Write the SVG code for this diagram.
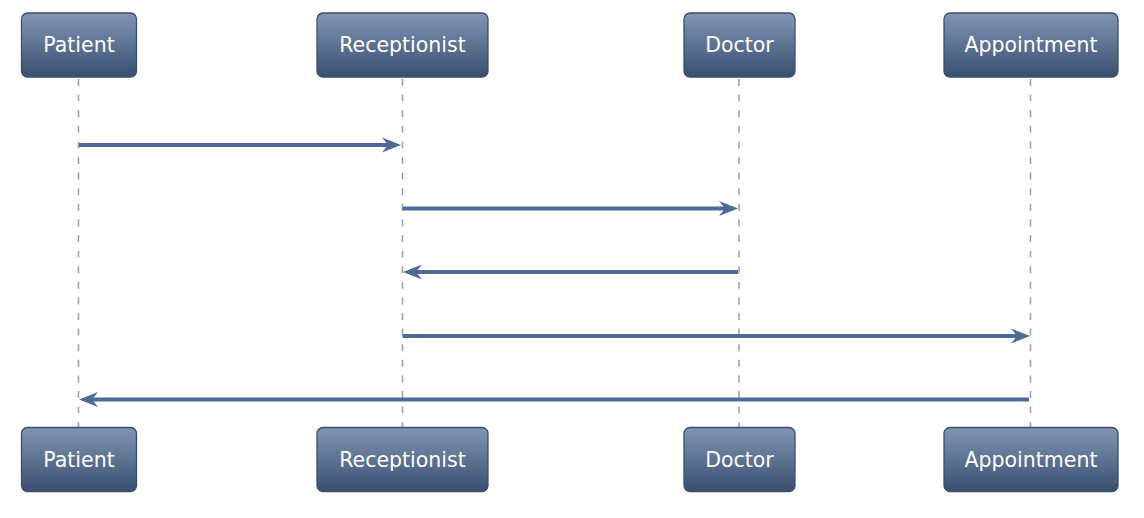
<svg xmlns="http://www.w3.org/2000/svg" width="1144" height="518" viewBox="0 0 1144 518">
<style>
.box{fill:url(#g);stroke:#3a4e6d;stroke-width:1.3}
.lbl{font-family:"DejaVu Sans",Verdana,sans-serif;font-size:20.5px;fill:#ffffff;text-anchor:middle}
.life{stroke:#a3a3a3;stroke-width:1.6;stroke-dasharray:7 8.6;fill:none}
.msg{stroke:#4e6b98;stroke-width:4;fill:none;marker-end:url(#ah)}
</style>
<defs>
<linearGradient id="g" x1="0" y1="0" x2="0" y2="1">
<stop offset="0" stop-color="#8195b3"/>
<stop offset="1" stop-color="#3a4f70"/>
</linearGradient>
<marker id="ah" markerUnits="userSpaceOnUse" markerWidth="30" markerHeight="20" viewBox="-10 -10 30 20" refX="0" refY="0" orient="auto">
<path d="M12,0 L-7,-7.5 L-1,0 L-7,7.5 Z" fill="#4e6b98"/>
</marker>
</defs>
<rect width="1144" height="518" fill="#ffffff"/>
<g id="lifelines">
<line class="life" x1="78.5" y1="79" x2="78.5" y2="427"/>
<line class="life" x1="402.5" y1="79" x2="402.5" y2="427"/>
<line class="life" x1="739" y1="79" x2="739" y2="427"/>
<line class="life" x1="1030.5" y1="79" x2="1030.5" y2="427"/>
</g>
<g id="connectors">
<line class="msg" x1="79" y1="145" x2="389" y2="145"/>
<line class="msg" x1="402.5" y1="208.5" x2="726" y2="208.5"/>
<line class="msg" x1="738" y1="272" x2="415" y2="272"/>
<line class="msg" x1="402.5" y1="336" x2="1018" y2="336"/>
<line class="msg" x1="1029" y1="399.5" x2="91" y2="399.5"/>
</g>
<g id="patient-top"><rect class="box" x="21.5" y="13" width="115" height="64" rx="6"/><text class="lbl" x="79" y="52">Patient</text></g>
<g id="receptionist-top"><rect class="box" x="317" y="13" width="171" height="64" rx="6"/><text class="lbl" x="402.5" y="52">Receptionist</text></g>
<g id="doctor-top"><rect class="box" x="684" y="13" width="111" height="64" rx="6"/><text class="lbl" x="739.5" y="52">Doctor</text></g>
<g id="appointment-top"><rect class="box" x="944" y="13" width="174" height="64" rx="6"/><text class="lbl" x="1031" y="52">Appointment</text></g>
<g id="patient-bottom"><rect class="box" x="21.5" y="427.5" width="115" height="64" rx="6"/><text class="lbl" x="79" y="466.5">Patient</text></g>
<g id="receptionist-bottom"><rect class="box" x="317" y="427.5" width="171" height="64" rx="6"/><text class="lbl" x="402.5" y="466.5">Receptionist</text></g>
<g id="doctor-bottom"><rect class="box" x="684" y="427.5" width="111" height="64" rx="6"/><text class="lbl" x="739.5" y="466.5">Doctor</text></g>
<g id="appointment-bottom"><rect class="box" x="944" y="427.5" width="174" height="64" rx="6"/><text class="lbl" x="1031" y="466.5">Appointment</text></g>
</svg>
